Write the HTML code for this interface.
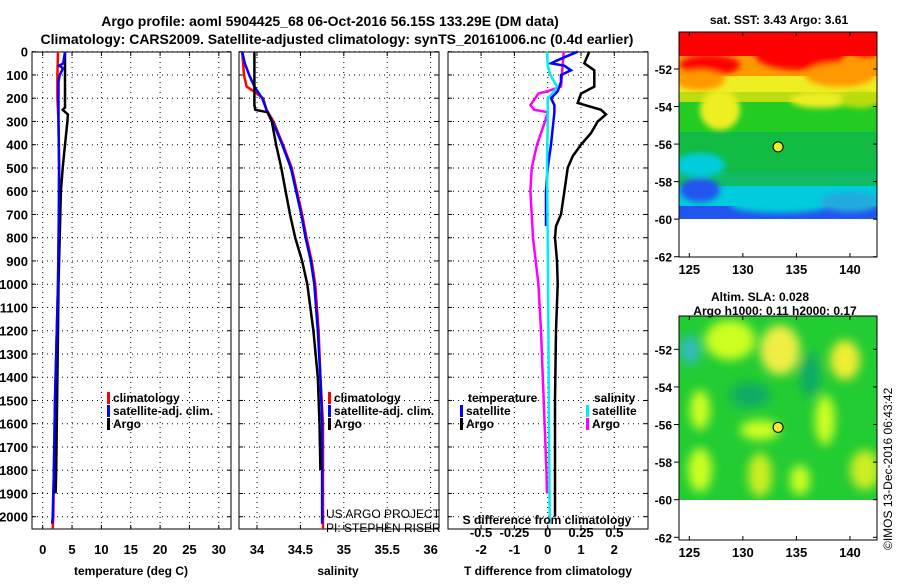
<!DOCTYPE html>
<html><head><meta charset="utf-8"><style>
body{margin:0;background:#fff}
svg{font-family:"Liberation Sans",sans-serif;font-weight:bold}
</style></head><body>
<svg id="c" width="900" height="580" viewBox="0 0 900 580">
<defs>
<filter id="bl"><feGaussianBlur stdDeviation="5"/></filter>
<filter id="bl2"><feGaussianBlur stdDeviation="3"/></filter>
<clipPath id="m1"><rect x="679" y="32" width="198" height="187"/></clipPath>
<clipPath id="m2"><rect x="679" y="316" width="198" height="184"/></clipPath>
</defs>
<text x="330" y="26" font-size="14" text-anchor="middle">Argo profile: aoml 5904425_68 06-Oct-2016 56.15S 133.29E (DM data)</text>
<text x="337" y="44" font-size="14" text-anchor="middle">Climatology: CARS2009. Satellite-adjusted climatology: synTS_20161006.nc (0.4d earlier)</text>
<g id="g"></g>
</svg>
<script>
// ---- data ----
const depthTicks=[0,100,200,300,400,500,600,700,800,900,1000,1100,1200,1300,1400,1500,1600,1700,1800,1900,2000];
const tempTicks=[0,5,10,15,20,25,30];
const salTicks=[34,34.5,35,35.5,36];
const tdTicks=[-2,-1,0,1,2];
const sdTicks=[-0.5,-0.25,0,0.25,0.5];
const sdTickLabels=["-0.5","-0.25","0","0.25","0.5"];
const tArgoDepth=[0,240,250,270,300,400,500,600,700,800,900,1000,1200,1400,1600,1800,1900];
const tArgoVal=[3.8,3.8,3.4,4.3,4.2,3.8,3.4,3.1,3.0,2.9,2.8,2.7,2.6,2.5,2.4,2.3,2.2];
const tClimDepth=[0,100,200,300,500,700,1000,1200,1500,1800,2000,2050];
const tClimVal=[2.6,2.5,2.5,2.7,2.8,2.8,2.6,2.4,2.1,1.9,1.8,1.7];
const tSatDepth=[0,50,60,70,80,100,130,200,300,500,700,1000,1200,1500,1800,2000,2030];
const tSatVal=[3.8,3.5,2.8,3.4,3.3,2.9,2.7,2.7,2.7,2.8,2.75,2.6,2.4,2.1,1.9,1.7,1.6];
const sArgoDepth=[0,230,250,260,300,400,500,600,700,800,900,1000,1200,1400,1600,1800];
const sArgoVal=[33.97,33.97,33.98,34.12,34.17,34.22,34.28,34.33,34.38,34.44,34.52,34.58,34.65,34.70,34.72,34.73];
const sClimDepth=[0,100,150,170,200,250,300,400,500,600,700,800,900,1000,1200,1400,1600,2050];
const sClimVal=[33.83,33.85,33.88,33.96,34.07,34.11,34.19,34.30,34.40,34.46,34.52,34.57,34.63,34.67,34.71,34.73,34.76,34.76];
const sSatDepth=[0,50,100,150,200,250,300,400,500,600,700,800,900,1000,1200,1400,1600,2030];
const sSatVal=[33.83,33.86,33.91,33.97,34.06,34.11,34.18,34.29,34.39,34.45,34.51,34.56,34.62,34.66,34.70,34.73,34.75,34.75];
const dtArgoDepth=[0,50,80,150,180,220,250,270,300,350,400,450,500,600,700,750,800,900,1000,1200,1500,2000];
const dtArgoVal=[1.25,1.1,1.4,1.4,1.0,0.9,1.6,1.75,1.5,1.3,1.0,0.75,0.6,0.5,0.4,0.25,0.22,0.28,0.3,0.25,0.22,0.22];
const dtSatDepth=[0,30,50,60,80,100,130,170,200,230,260,400,500,600,750];
const dtSatVal=[0.9,0.4,0.1,0.5,0.7,0.4,0.4,0.3,0.1,0.2,0.2,0.1,0.0,-0.05,-0.05];
const dsSatDepth=[0,60,100,150,170,200,300,500,800,1200,1600,2000,2030];
const dsSatVal=[-0.005,0.0,0.02,0.07,0.05,0.0,0.0,-0.005,0.0,0.005,0.01,0.015,0.015];
const dsArgoDepth=[0,150,170,180,230,250,260,300,400,500,600,700,800,900,1000,1200,1500,1800,1900];
const dsArgoVal=[0.12,0.1,0.0,-0.07,-0.13,-0.1,0.0,-0.02,-0.08,-0.12,-0.13,-0.12,-0.11,-0.09,-0.07,-0.05,-0.03,-0.01,-0.005];
const latTicks=[-52,-54,-56,-58,-60,-62];
const lonTicks=[125,130,135,140];
const floatLon=133.29, floatLat=-56.15;

// ---- axes ----
const Y0=52,Y1=529;
const yD=d=>51.7+d*0.23250;
const xT=v=>42.7+v*5.87;
const xS=v=>257+(v-34)*86.8;
const xDT=v=>547.7+v*33.3;
const xDS=v=>547.7+v*133.3;
const mx=lon=>689.3+(lon-125)*10.71;
const my1=lat=>69+(-52-lat)*18.77;
const my2=lat=>349.3+(-52-lat)*18.8;

const g=document.getElementById('g');
const NS='http://www.w3.org/2000/svg';
function el(t,a,txt){const e=document.createElementNS(NS,t);for(const k in a)e.setAttribute(k,a[k]);if(txt!==undefined)e.textContent=txt;g.appendChild(e);return e;}
function line(x1,y1,x2,y2,st){return el('line',Object.assign({x1,y1,x2,y2},st));}
const dot={stroke:'#000','stroke-width':1,'stroke-dasharray':'1 4'};

const panels=[{x0:32,x1:231,name:'temperature'},{x0:239,x1:439,name:'salinity'},{x0:448,x1:648,name:'difference'}];
panels.forEach(p=>{
  depthTicks.forEach(d=>{const y=yD(d);const l=line(p.x0,y,p.x1,y,dot);
    
    
    line(p.x0,y,p.x0+4,y,{stroke:'#000'});line(p.x1-4,y,p.x1,y,{stroke:'#000'});});
});
depthTicks.forEach(d=>{const t=el('text',{x:28,y:yD(d)+5,'font-size':13,'text-anchor':'end'},String(d));
  
  });
function vgrid(ticks,fx,labels,ly){ticks.forEach((v,i)=>{const x=fx(v);
  const l=line(x,Y0,x,Y1,dot);
  
  
  line(x,Y1-4,x,Y1,{stroke:'#000'});line(x,Y0,x,Y0+4,{stroke:'#000'});
  if(labels){const t=el('text',{x:x,y:ly,'font-size':13,'text-anchor':'middle'},labels[i]);
    
    }});}
vgrid(tempTicks,xT,tempTicks.map(String),554);
vgrid(salTicks,xS,salTicks.map(String),554);
vgrid(tdTicks,xDT,tdTicks.map(String),554);
sdTicks.forEach((v,i)=>{const t=el('text',{x:xDS(v),y:537,'font-size':13,'text-anchor':'middle'},sdTickLabels[i]);
  
  });
panels.forEach(p=>{const r=el('rect',{x:p.x0,y:Y0,width:p.x1-p.x0,height:Y1-Y0,fill:'none',stroke:'#000','stroke-width':1});
  
  });

function series(D,V,fx,col,w,name){const pts=D.map((d,i)=>fx(V[i]).toFixed(1)+','+yD(d).toFixed(1)).join(' ');
  const e=el('polyline',{points:pts,fill:'none',stroke:col,'stroke-width':w,'stroke-linejoin':'miter'});
  
  }
series(tClimDepth,tClimVal,xT,'#f00',2.5,'temp-climatology-line');
series(tArgoDepth,tArgoVal,xT,'#000',2.5,'temp-argo-line');
series(tSatDepth,tSatVal,xT,'#00f',2.5,'temp-satellite-line');
series(sClimDepth,sClimVal,xS,'#f00',2.5,'sal-climatology-line');
series(sSatDepth,sSatVal,xS,'#00f',2.5,'sal-satellite-line');
series(sArgoDepth,sArgoVal,xS,'#000',2.5,'sal-argo-line');
series(dtArgoDepth,dtArgoVal,xDT,'#000',2.5,'tdiff-argo-line');
series(dsArgoDepth,dsArgoVal,xDS,'#f0f',2.5,'sdiff-argo-line');
series(dtSatDepth,dtSatVal,xDT,'#00f',2.5,'tdiff-satellite-line');
series(dsSatDepth,dsSatVal,xDS,'#0ee',2.5,'sdiff-satellite-line');

function txt(x,y,s,size,name,anchor){const t=el('text',{x,y,'font-size':size,'text-anchor':anchor||'start'},s);
  
  return t;}
function leg(x,y,col,s,name){el('rect',{x:x,y:y-10,width:3,height:12,fill:col});txt(x+6,y,s,12,name);}
leg(107,402,'#f00','climatology','legend-climatology');
leg(107,415,'#00f','satellite-adj. clim.','legend-satellite');
leg(107,428,'#000','Argo','legend-argo');
leg(328,402,'#f00','climatology','legend-climatology-sal');
leg(328,415,'#00f','satellite-adj. clim.','legend-satellite-sal');
leg(328,428,'#000','Argo','legend-argo-sal');
txt(468,402,'temperature',12,'legend-temperature-heading');
leg(460,415,'#00f','satellite','legend-t-satellite');
leg(460,428,'#000','Argo','legend-t-argo');
txt(594,402,'salinity',12,'legend-salinity-heading');
leg(586,415,'#0ee','satellite','legend-s-satellite');
leg(586,428,'#f0f','Argo','legend-s-argo');
const c1=txt(326,518,'US ARGO PROJECT',12,'credit-project');c1.setAttribute('font-weight','normal');
const c2=txt(326,532,'PI: STEPHEN RISER',12,'credit-pi');c2.setAttribute('font-weight','normal');
txt(547,524,'S difference from climatology',12,'s-diff-axis-title','middle');
txt(131,575,'temperature (deg C)',12,'temp-axis-title','middle');
txt(338,575,'salinity',12,'salinity-axis-title','middle');
txt(548,575,'T difference from climatology',12,'t-diff-axis-title','middle');

// ---- maps ----
function rect(x,y,w,h,f,clip){const a={x,y,width:w,height:h,fill:f};if(clip)a['clip-path']=clip;return el('rect',a);}
function blobs(clip,filt,list){const gg=el('g',{'clip-path':clip,filter:filt});
  list.forEach(e=>{const r=document.createElementNS(NS,'ellipse');r.setAttribute('cx',e[0]);r.setAttribute('cy',e[1]);r.setAttribute('rx',e[2]);r.setAttribute('ry',e[3]);r.setAttribute('fill',e[4]);gg.appendChild(r);});}
// SST map
const sstBands=[['#f00',32,24],['#f90',56,20],['#ee2',76,16],['#bd1',92,10],['#2c2',102,30],['#1b4',132,40],['#1b6',172,14],['#0cd',186,20],['#25e',206,14]];
sstBands.forEach(b=>rect(679,b[1],198,b[2]+1,b[0],'url(#m1)'));
blobs('url(#m1)','url(#bl2)',[[710,65,30,10,'#f00'],[800,55,45,15,'#f00'],[865,45,15,12,'#f00'],[840,75,35,12,'#f90'],[700,80,25,10,'#f90'],[720,110,20,20,'#ee2'],[820,100,30,8,'#ee2'],[860,100,20,8,'#bd1'],[700,165,25,12,'#0cd'],[700,190,20,12,'#25e'],[780,205,50,8,'#0cd'],[850,202,30,10,'#2ad']]);
// SLA map
rect(679,316,198,184,'#2c3','url(#m2)');
blobs('url(#m2)','url(#bl)',[[730,340,25,20,'#cf2'],[780,350,20,25,'#ee4'],[845,360,15,20,'#ee3'],[700,410,10,20,'#cf2'],[760,430,20,10,'#cf2'],[825,420,10,25,'#cf2'],[865,470,15,20,'#ce2'],[760,475,12,22,'#ce2'],[700,470,12,22,'#cf2'],[800,480,10,15,'#cf2'],[750,395,20,12,'#1a6'],[810,375,10,22,'#1a6'],[690,350,10,15,'#3bb']]);
function mapFrame(top,bottom,fy,name){
  const r=el('rect',{x:679,y:top,width:198,height:bottom-top,fill:'none',stroke:'#000'});
  
  
  latTicks.forEach(l=>{const y=fy(l);line(674,y,679,y,{stroke:'#000'});line(873,y,877,y,{stroke:'#000'});
    txt(672,y+5,String(l),12,'lat-tick-label','end');});
  lonTicks.forEach(l=>{const x=mx(l);line(x,bottom,x,bottom-4,{stroke:'#000'});line(x,top,x,top+4,{stroke:'#000'});
    txt(x,bottom+17,String(l),13,'lon-tick-label','middle');});
  const c=el('circle',{cx:mx(floatLon),cy:fy(floatLat),r:5,fill:'#ee2',stroke:'#000','stroke-width':1});
  
  
}
mapFrame(32,257,my1,'sst-map');
mapFrame(316,540,my2,'sla-map');
txt(779,24,'sat. SST: 3.43 Argo: 3.61',12,'sst-map-title','middle');
txt(760,301,'Altim. SLA: 0.028',12,'sla-map-title','middle');
txt(775,315,'Argo h1000: 0.11 h2000: 0.17',12,'sla-map-subtitle','middle');
const st=txt(0,0,'©IMOS 13-Dec-2016 06:43:42',12,'timestamp-credit');
st.setAttribute('font-weight','normal');
st.setAttribute('transform','translate(892,550) rotate(-90)');
</script>
</body></html>
